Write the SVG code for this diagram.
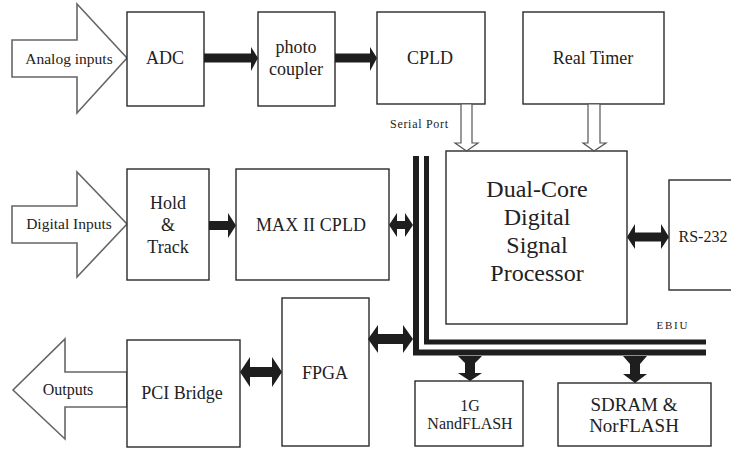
<svg xmlns="http://www.w3.org/2000/svg" width="731" height="451" viewBox="0 0 731 451">
<style>
.box{fill:#fff;stroke:#2a2a2a;stroke-width:1.4}
.big{fill:#fff;stroke:#666;stroke-width:1.6;stroke-linejoin:miter}
.hol{fill:#fff;stroke:#555;stroke-width:1.2}
.sol{fill:#1e1e1e}
.bus{fill:none;stroke:#1e1e1e;stroke-linejoin:miter}
text{fill:#222;text-anchor:middle}
</style>
<rect width="731" height="451" fill="#fff"/>
<g font-family="Liberation Serif, Times New Roman, serif">
<g id="analog-inputs">
<polygon class="big" points="12,40 77,40 77,4 127,58 77,113 77,77 12,77"/>
<text x="69" y="64" font-size="15.5">Analog inputs</text>
</g>
<g id="digital-inputs">
<polygon class="big" points="12,206 77,206 77,172 127,224 77,277 77,243 12,243"/>
<text x="69" y="229" font-size="15.5">Digital Inputs</text>
</g>
<g id="outputs">
<polygon class="big" points="127,372 65,372 65,339 13,390 65,439 65,407 127,407"/>
<text x="68" y="395" font-size="16">Outputs</text>
</g>
<g id="adc">
<rect class="box" x="127" y="12" width="77" height="94"/>
<text x="165" y="64" font-size="18">ADC</text>
</g>
<g id="photo-coupler">
<rect class="box" x="258" y="12" width="77" height="94"/>
<text x="296" y="53" font-size="18">photo</text>
<text x="296" y="75" font-size="18">coupler</text>
</g>
<g id="cpld">
<rect class="box" x="377" y="12" width="108" height="92"/>
<text x="430" y="64" font-size="18">CPLD</text>
</g>
<g id="real-timer">
<rect class="box" x="523" y="12" width="141" height="92"/>
<text x="593" y="64" font-size="18">Real Timer</text>
</g>
<g id="hold-track">
<rect class="box" x="127" y="169" width="82" height="111"/>
<text x="168" y="209" font-size="18">Hold</text>
<text x="168" y="231" font-size="18">&amp;</text>
<text x="168" y="253" font-size="18">Track</text>
</g>
<g id="max-ii-cpld">
<rect class="box" x="236" y="169" width="153" height="111"/>
<text x="311" y="231" font-size="18" textLength="110">MAX II CPLD</text>
</g>
<g id="dsp">
<rect class="box" x="446" y="151" width="181" height="173"/>
<text x="537" y="197" font-size="24">Dual-Core</text>
<text x="537" y="225" font-size="24">Digital</text>
<text x="537" y="253" font-size="24">Signal</text>
<text x="537" y="281" font-size="24">Processor</text>
</g>
<g id="rs232">
<rect class="box" x="669" y="180" width="72" height="110"/>
<text x="703" y="242" font-size="16">RS-232</text>
</g>
<g id="pci-bridge">
<rect class="box" x="127" y="340" width="113" height="107"/>
<text x="182" y="399" font-size="18">PCI Bridge</text>
</g>
<g id="fpga">
<rect class="box" x="282" y="298" width="87" height="148"/>
<text x="325" y="379" font-size="18">FPGA</text>
</g>
<g id="nandflash">
<rect class="box" x="415" y="381" width="108" height="65"/>
<text x="470" y="411" font-size="16">1G</text>
<text x="470" y="429" font-size="16">NandFLASH</text>
</g>
<g id="sdram-norflash">
<rect class="box" x="558" y="383" width="153" height="63"/>
<text x="634" y="411" font-size="19">SDRAM &amp;</text>
<text x="634" y="432" font-size="19">NorFLASH</text>
</g>
<g id="connectors">
<path class="bus" stroke-width="6" d="M416,156 V352.5 H706"/>
<path class="bus" stroke-width="5" d="M426.5,156 V342 H706"/>
<polygon class="sol" points="204,53.5 251,53.5 251,47 258,58 251,71 251,62.5 204,62.5"/>
<polygon class="sol" points="335,53.5 370,53.5 370,47 377,58 370,71 370,62.5 335,62.5"/>
<polygon class="sol" points="209,221 228,221 228,213 236,225.5 228,238 228,230 209,230"/>
<polygon class="sol" points="389,225 397,213 397,221 405,221 405,213 413,225 405,237 405,229 397,229 397,237"/>
<polygon class="sol" points="627,237 635,224 635,232.5 661,232.5 661,224 669,237 661,249 661,241.5 635,241.5 635,249"/>
<polygon class="sol" points="368,339 378,325 378,334 403,334 403,325 413,339 403,353 403,344 378,344 378,353"/>
<polygon class="sol" points="240,372 250,357 250,367 272,367 272,357 282,372 272,387 272,377 250,377 250,387"/>
<polygon class="sol" points="458,356 482,356 475,363 475,373 482,373 470,381 458,373 465,373 465,363"/>
<polygon class="sol" points="623,356 647,356 640,364 640,374 647,374 635,383 623,374 630,374 630,364"/>
<polygon class="hol" points="461,104 461,143 455,143 466.5,151 478,143 472,143 472,104"/>
<polygon class="hol" points="588,104 588,143 583,143 594,151 606,143 600,143 600,104"/>
<text x="419" y="128" font-size="12" textLength="58">Serial Port</text>
<text x="672" y="329" font-size="11" textLength="31">EBIU</text>
</g>
</g>
</svg>
